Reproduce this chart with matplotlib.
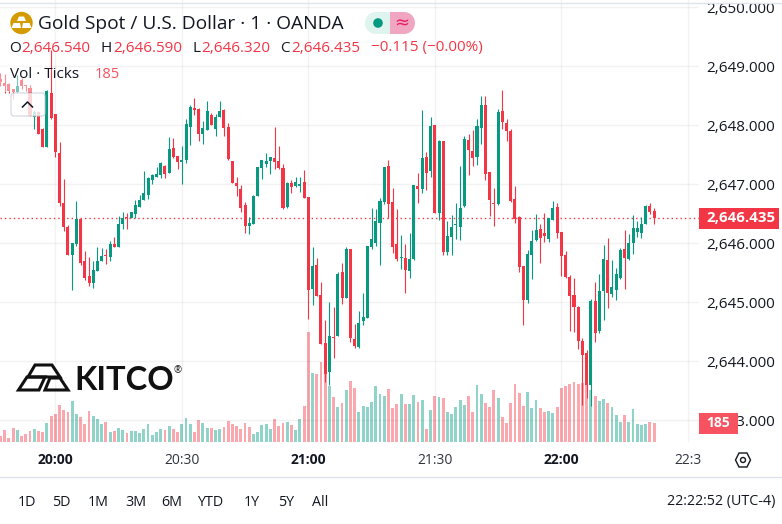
import matplotlib
matplotlib.use('Agg')
import matplotlib.pyplot as plt
from matplotlib.patches import Circle, FancyBboxPatch, Polygon, Rectangle, Wedge
import numpy as np

plt.rcParams['font.family'] = 'Open Sans'

# minutes relative to 20:00, one candle per minute
minutes = np.arange(-13, 143)
base_price = 2646.0

# all prices below are offsets from 2646
high_off = [2.89, 2.87, 2.72, 2.62, 2.85, 2.80, 2.69, 2.68, 2.26, 2.25, 1.95, 2.60, 3.28,
            2.19, 1.71, 1.09, 0.31, 0.01, 0.72, 0.42, -0.13, -0.24, -0.30,
            -0.06, -0.08, -0.10, 0.04, 0.11, 0.46, 0.53, 0.51, 0.53, 0.73,
            0.82, 1.23, 1.12, 1.18, 1.29, 1.38, 1.33, 1.80, 1.79, 1.48,
            1.65, 2.11, 2.34, 2.46, 2.29, 2.07, 2.41, 2.21, 2.19, 2.41,
            2.28, 2.04, 1.40, 1.12, 0.99, 0.70, 0.45, 0.82, 1.29, 1.41,
            1.53, 1.46, 1.97, 1.65, 1.34, 1.04, 1.07, 1.12, 1.12, 1.24,
            0.79, -0.06, -0.25, -0.66, -1.30, -0.99, -1.08, -0.49, -0.33, -0.06,
            -0.10, -1.37, -1.15, -0.84, -0.05, 0.60, 0.58, 0.77, 1.29, 1.41,
            0.94, 0.58, 0.14, -0.01, 0.18, 0.99, 1.19, 2.26, 1.55, 2.14,
            2.01, 1.75, 1.73, 0.38, 0.48, 0.68, 1.31, 1.82, 1.85, 1.92,
            2.11, 2.50, 2.50, 1.21, 0.94, 2.28, 2.60, 2.11, 1.94, 0.97,
            0.46, -0.38, -0.11, 0.23, 0.50, 0.33, 0.51, 0.43, 0.72, 0.68,
            0.19, -0.13, -0.54, -0.59, -1.06, -1.60, -1.81, -0.94, -0.66, -0.52,
            -0.03, 0.09, -0.28, -0.42, -0.08, 0.23, 0.16, 0.48, 0.38, 0.45, 0.65, 0.68, 0.59]

body_top_off = [2.79, 2.72, 2.70, 2.62, 2.67, 2.76, 2.68, 2.63, 2.23, 2.22, 1.94, 2.59, 2.55,
                2.19, 1.53, 0.68, 0.28, 0.01, 0.42, 0.42, -0.30, -0.55, -0.45,
                -0.30, -0.21, -0.20, -0.01, -0.01, 0.33, 0.43, 0.45, 0.53, 0.65,
                0.73, 0.85, 1.11, 1.16, 1.18, 1.36, 1.31, 1.60, 1.62, 1.48,
                1.41, 2.02, 2.31, 2.29, 2.28, 1.95, 2.24, 2.18, 2.14, 2.24,
                2.26, 1.97, 1.40, 1.02, 0.92, 0.65, 0.34, 0.80, 1.29, 1.41,
                1.40, 1.46, 1.45, 1.40, 1.28, 1.02, 1.02, 1.04, 1.01, 1.04,
                0.79, -0.38, -0.37, -0.88, -1.69, -1.57, -1.59, -0.52, -0.49, -0.10,
                -0.10, -1.62, -1.35, -1.25, -0.05, 0.07, 0.38, 0.72, 1.29, 1.31,
                0.70, -0.01, -0.23, -0.25, -0.27, 0.99, 0.97, 1.45, 1.46, 1.99,
                2.01, 1.73, 1.73, 0.12, 0.28, 0.33, 0.60, 1.77, 1.75, 1.57,
                1.99, 2.34, 2.34, 1.21, 0.68, 2.23, 2.24, 2.04, 1.90, 0.75,
                0.45, -0.38, -0.18, 0.04, 0.23, 0.24, 0.18, 0.43, 0.60, 0.62,
                0.19, -0.20, -0.57, -0.88, -1.08, -1.66, -1.86, -0.98, -0.98, -0.81,
                -0.27, -0.28, -0.74, -0.52, -0.11, -0.10, 0.01, 0.26, 0.26, 0.33, 0.63, 0.63, 0.54]

body_bottom_off = [2.73, 2.67, 2.59, 2.57, 2.57, 2.66, 2.66, 2.16, 2.14, 1.86, 1.64, 1.64, 2.12,
                   1.54, 0.68, 0.27, -0.20, -0.20, -0.01, -0.33, -0.58, -0.67, -0.67,
                   -0.47, -0.30, -0.22, -0.23, -0.06, -0.06, 0.33, 0.43, 0.43, 0.50,
                   0.62, 0.73, 0.82, 1.07, 1.12, 1.16, 1.18, 1.19, 1.46, 1.38,
                   1.38, 1.41, 1.97, 2.26, 1.85, 1.85, 1.92, 2.01, 1.94, 2.14,
                   1.95, 1.43, 1.02, 0.97, 0.60, 0.29, 0.29, 0.33, 0.80, 1.28,
                   1.34, 1.40, 1.38, 1.28, 0.60, 0.62, 0.95, 0.97, 0.97, 0.77,
                   -0.79, -0.77, -0.89, -1.71, -2.21, -2.18, -1.60, -1.57, -0.93, -0.93,
                   -1.60, -1.74, -1.76, -1.32, -1.27, -0.06, 0.01, 0.34, 0.70, 0.67,
                   -0.06, -0.27, -0.25, -0.45, -0.47, -0.27, 0.92, 0.92, 1.19, 1.23,
                   0.51, 0.51, -0.15, -0.15, 0.11, 0.31, 0.28, 0.63, 1.58, 1.45,
                   1.46, 1.95, 1.18, 0.73, 0.67, 0.67, 2.06, 1.90, 0.72, 0.41,
                   -0.40, -0.96, -0.96, -0.20, 0.06, 0.09, 0.12, 0.07, 0.40, 0.18,
                   -0.21, -0.57, -0.89, -1.08, -1.66, -1.89, -2.40, -2.40, -1.52, -1.49,
                   -0.81, -0.84, -0.86, -0.79, -0.59, -0.25, -0.27, 0.01, 0.19, 0.18, 0.33, 0.53, 0.435]

low_off = [2.67, 2.55, 2.54, 2.44, 2.57, 2.61, 2.59, 2.16, 1.94, 1.85, 1.64, 1.64, 2.10,
           1.47, 0.63, 0.21, -0.20, -0.79, -0.05, -0.37, -0.62, -0.72, -0.75,
           -0.47, -0.30, -0.35, -0.30, -0.06, -0.06, 0.24, 0.24, 0.43, 0.43,
           0.62, 0.73, 0.75, 1.01, 1.12, 1.11, 1.11, 1.19, 1.45, 1.26,
           1.01, 1.36, 1.67, 2.18, 1.73, 1.68, 1.92, 2.01, 1.82, 2.14,
           1.82, 1.41, 1.02, 0.80, 0.53, 0.18, 0.16, 0.33, 0.80, 1.09,
           1.29, 1.18, 1.26, 1.26, 0.58, 0.60, 0.85, 0.95, 0.87, 0.77,
           -1.28, -1.05, -0.89, -1.71, -2.35, -2.40, -1.94, -1.57, -1.03, -0.93,
           -1.67, -1.77, -1.77, -1.38, -1.27, -0.10, -0.05, -0.37, 0.67, 0.43,
           -0.16, -0.30, -0.44, -0.84, -0.59, -0.28, 0.68, 0.85, 0.90, 1.12,
           0.51, 0.40, -0.20, -0.20, -0.20, 0.07, 0.06, 0.62, 1.16, 1.31,
           1.33, 1.68, 1.07, 0.46, 0.29, 0.65, 1.94, 1.73, 0.70, 0.34,
           -0.49, -1.38, -1.01, -0.60, 0.04, -0.33, 0.02, 0.02, 0.40, 0.09,
           -0.55, -0.59, -1.49, -1.50, -1.79, -2.74, -2.62, -2.76, -1.67, -1.52,
           -1.30, -1.10, -0.91, -0.96, -0.60, -0.77, -0.28, -0.18, 0.11, 0.09, 0.33, 0.50, 0.32]

# R = close below open, G = close above open
direction = list('RRRRGRRRGRRGR'
                 'RRRRGGRRRG' 'GGRGRGGRGG' 'GGGGGGRGRR' 'GGGRRGGRGG' 'RRRRRRGGGG' 'GGRRRGRGGR'
                 'RGRRRGRGRG' 'RRGGGGGGGR' 'RRGRGGRGRG' 'RGRGGGGGRR' 'GGRRRGRRRR' 'RRGGGRRGGR'
                 'RRRRRRRGRG' 'GRGGGRGGGGGRR')

volume = [56, 116, 36, 135, 116, 56, 76, 106, 125, 106, 96, 185, 254,
          274, 363, 314, 294, 403, 274, 244, 175, 304, 254,
          224, 175, 195, 96, 106, 135, 116, 86, 106, 106,
          86, 125, 175, 66, 96, 125, 116, 155, 125, 96,
          175, 234, 175, 96, 215, 185, 135, 135, 119, 125,
          145, 205, 175, 155, 125, 185, 145, 76, 96, 165,
          175, 125, 224, 155, 185, 195, 165, 116, 224, 353,
          1086, 680, 670, 789, 726, 551, 442, 343, 383, 512,
          601, 531, 294, 353, 343, 393, 551, 472, 452, 521,
          333, 373, 472, 373, 373, 462, 393, 413, 125, 314,
          452, 442, 432, 294, 274, 343, 413, 363, 452, 294,
          561, 472, 383, 343, 512, 432, 244, 185, 383, 571,
          482, 353, 492, 333, 413, 333, 294, 304, 284, 343,
          531, 551, 571, 591, 571, 581, 561, 512, 452, 403,
          422, 383, 343, 264, 195, 264, 195, 323, 175, 165, 175, 195, 185]

price_ticks = [2643, 2644, 2645, 2646, 2647, 2648, 2649, 2650]
time_ticks = [0, 30, 60, 90, 120, 150]
time_labels = ['20:00', '20:30', '21:00', '21:30', '22:00', '22:3']
range_buttons = ['1D', '5D', '1M', '3M', '6M', 'YTD', '1Y', '5Y', 'All']
last_price = 2646.435

RED = '#F23645'
GREEN = '#089981'
DARK = '#131722'

highs = base_price + np.array(high_off)
lows = base_price + np.array(low_off)
tops = base_price + np.array(body_top_off)
bottoms = base_price + np.array(body_bottom_off)
candle_colors = [RED if d == 'R' else GREEN for d in direction]
vol_colors = ['#F7525F' if d == 'R' else '#22AB94' for d in direction]
vol_colors[59] = '#F7525F'  # 20:46 bar is red in the volume pane

W, H = 782, 524
PANE_R, PANE_B = 699, 442

fig = plt.figure(figsize=(W / 100, H / 100), dpi=100, facecolor='white')
rect = [0, (H - PANE_B) / H, PANE_R / W, PANE_B / H]

# volume sits behind the candles
ax_vol = fig.add_axes(rect, zorder=1)
ax_vol.bar(minutes, volume, width=0.68, color=vol_colors, alpha=0.5, linewidth=0)
ax_vol.set_xlim(-13.11, 152.64)
ax_vol.set_ylim(-3, 4380)
ax_vol.axis('off')

ax = fig.add_axes(rect, zorder=2)
ax.patch.set_visible(False)
ax.vlines(minutes, lows, highs, colors=candle_colors, linewidth=0.8, zorder=3)
ax.bar(minutes, tops - bottoms, bottom=bottoms, width=0.72, color=candle_colors, linewidth=0, zorder=4)
ax.axhline(last_price, color=RED, linewidth=1, linestyle=(0, (1, 2.2)), zorder=2)
ax.set_xlim(-13.11, 152.64)
ax.set_ylim(2642.632, 2650.124)
ax.yaxis.tick_right()
ax.set_yticks(price_ticks)
ax.set_yticklabels([f'{p:,.3f}' for p in price_ticks], fontsize=11, color=DARK)
ax.set_xticks(time_ticks)
ax.set_xticklabels(time_labels, fontsize=10, color='#30343f')
for lab in ax.get_xticklabels():
    if lab.get_text().endswith(':00'):
        lab.set_fontweight('bold')
        lab.set_color(DARK)
ax.tick_params(axis='both', length=0)
ax.tick_params(axis='y', pad=5)
ax.tick_params(axis='x', pad=8)
ax.grid(True, color='black', alpha=0.05, linewidth=1)
ax.set_axisbelow(True)
for s in ax.spines.values():
    s.set_visible(False)

# overlay in pixel coordinates for the app chrome
ov = fig.add_axes([0, 0, 1, 1], zorder=3)
ov.set_xlim(0, W)
ov.set_ylim(H, 0)
ov.axis('off')

ov.plot([0, W], [3, 3], color='#E0E3EB', linewidth=1)
ov.plot([0, W], [477, 477], color='#E0E3EB', linewidth=1)

# faded area under the legend and collapse button
ov.add_patch(Rectangle((0, 66), 45, 26, facecolor='white', alpha=0.45, linewidth=0))
ov.add_patch(FancyBboxPatch((11, 93), 34, 23, boxstyle='round,pad=0,rounding_size=3',
                            facecolor='white', alpha=0.8, edgecolor='#C9CBD6', linewidth=0.8))
ov.plot([22.5, 27.5, 32.5], [107, 102, 107], color=DARK, linewidth=1.1)

# gold icon
ov.add_patch(Circle((21.5, 23), 11.2, facecolor='#D49B00', linewidth=0))
for pts in ([(17, 21), (19, 16.5), (24, 16.5), (26, 21)],
            [(11.5, 28), (13.5, 23), (20, 23), (21, 28)],
            [(22, 28), (23, 23), (29.5, 23), (31.5, 28)]):
    ov.add_patch(Polygon(pts, closed=True, facecolor='white', linewidth=0))

ov.text(38, 24, 'Gold Spot / U.S. Dollar · 1 · OANDA', fontsize=13.8, color=DARK, va='center', ha='left')

# market status pill
ov.add_patch(Wedge((376, 23), 11, 90, 270, facecolor='#DFF3EF', linewidth=0))
ov.add_patch(Rectangle((376, 12), 14, 22, facecolor='#DFF3EF', linewidth=0))
ov.add_patch(Rectangle((390, 12), 14, 22, facecolor='#F0A6C0', linewidth=0))
ov.add_patch(Wedge((404, 23), 11, -90, 90, facecolor='#F0A6C0', linewidth=0))
ov.add_patch(Circle((378, 23), 4.8, facecolor=GREEN, linewidth=0))
ov.text(402, 23, '≈', fontsize=13, color='#E91E63', va='center', ha='center', family='DejaVu Sans')

# OHLC row
for x, s, c in [(9, 'O', DARK), (21.5, '2,646.540', RED), (101, 'H', DARK), (113, '2,646.590', RED),
                (192, 'L', DARK), (201, '2,646.320', RED), (280, 'C', DARK), (291, '2,646.435', RED),
                (371, '−0.115 (−0.00%)', RED)]:
    ov.text(x, 48, s, fontsize=11, color=c, va='center', ha='left')

ov.text(10, 75, 'Vol · Ticks', fontsize=11, color=DARK, va='center', ha='left')
ov.text(95, 75, '185', fontsize=10.5, color='#F7525F', va='center', ha='left')

# price badges on the right scale
ov.add_patch(Rectangle((699, 208), 80, 21, facecolor=RED, linewidth=0))
ov.text(741, 218, '2,646.435', fontsize=10.8, color='white', fontweight='bold', va='center', ha='center')
ov.add_patch(Rectangle((699, 413), 39, 21, facecolor='#F7525F', linewidth=0))
ov.text(718.5, 423, '185', fontsize=10, color='white', fontweight='bold', va='center', ha='center')

# settings hexagon
ov.add_patch(Polygon([(735.5, 460), (739, 453), (747, 453), (750.5, 460), (747, 467), (739, 467)],
                     closed=True, facecolor='white', edgecolor=DARK, linewidth=1))
ov.add_patch(Circle((743, 460), 2.5, facecolor='white', edgecolor=DARK, linewidth=1))

# KITCO logo
for pts in ([(28, 377), (35, 365), (52, 365), (60, 377)],
            [(18.5, 390), (27, 377), (45, 377), (39, 390)],
            [(45, 390), (50, 378), (60, 378), (68, 390)]):
    ov.add_patch(Polygon(pts, closed=True, facecolor='none', edgecolor='#111111', linewidth=2.2))
ov.text(74, 380, 'KITCO', fontsize=23.5, color='#111111', fontweight='bold', va='center', ha='left', family='Lato')
ov.text(174, 370.5, '®', fontsize=7, color='#111111', va='center', ha='left')

# bottom range buttons
for x, s in zip([18, 52, 88, 125, 161, 197, 244, 278, 312], range_buttons):
    ov.text(x, 502, s, fontsize=10.3, color=DARK, va='center', ha='left')
ov.text(775, 502, '22:22:52 (UTC-4)', fontsize=10.3, color=DARK, va='center', ha='right')

fig.savefig('out.png', dpi=100)
